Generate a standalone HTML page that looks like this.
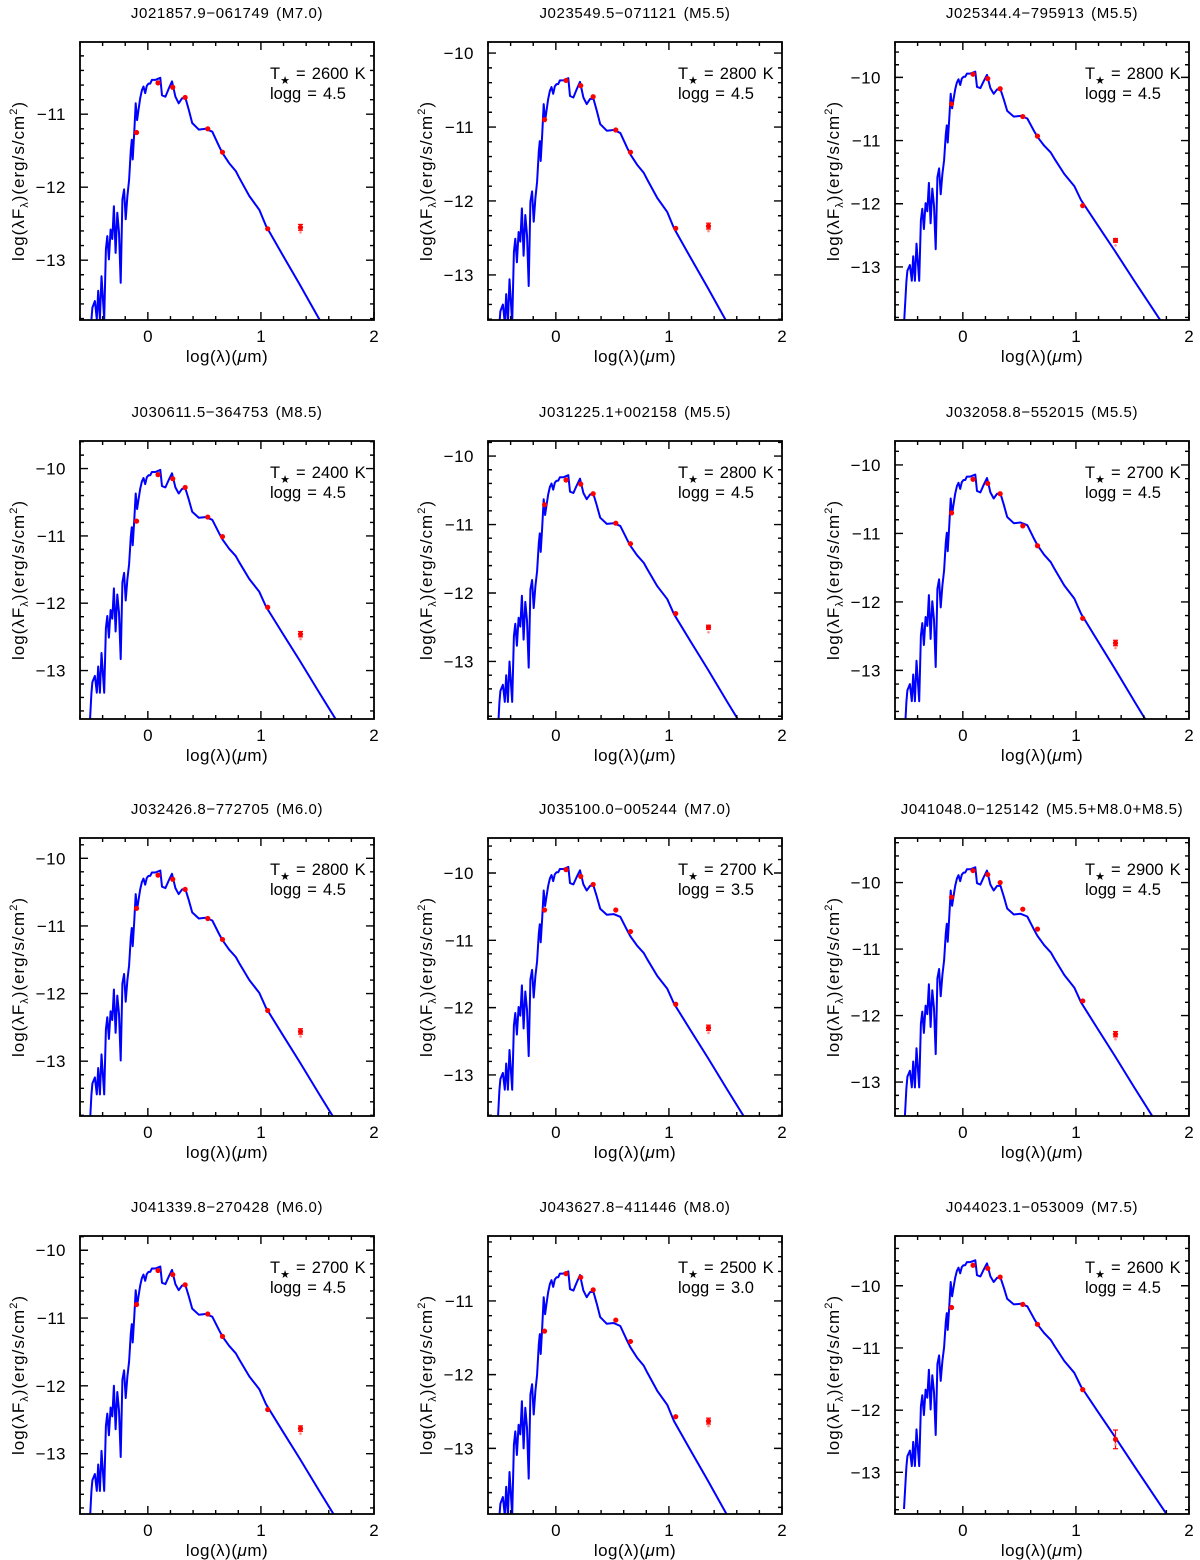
<!DOCTYPE html>
<html><head><meta charset="utf-8"><style>
body{margin:0;background:#fff}
svg{display:block}
text{font-family:"Liberation Sans",sans-serif;fill:#000}
</style></head><body>
<svg id="fig" width="1200" height="1560" viewBox="0 0 1200 1560" xmlns="http://www.w3.org/2000/svg"></svg>
<script>
// Panel metadata
const titles = ["J021857.9\u2212061749 (M7.0)","J023549.5\u2212071121 (M5.5)","J025344.4\u2212795913 (M5.5)",
"J030611.5\u2212364753 (M8.5)","J031225.1+002158 (M5.5)","J032058.8\u2212552015 (M5.5)",
"J032426.8\u2212772705 (M6.0)","J035100.0\u2212005244 (M7.0)","J041048.0\u2212125142 (M5.5+M8.0+M8.5)",
"J041339.8\u2212270428 (M6.0)","J043627.8\u2212411446 (M8.0)","J044023.1\u2212053009 (M7.5)"];
const temps = [2600,2800,2800,2400,2800,2700,2800,2700,2900,2700,2500,2600];
const loggs = ["4.5","4.5","4.5","4.5","4.5","4.5","4.5","3.5","4.5","4.5","3.0","4.5"];
const yMins = [-13.82,-13.61,-13.84,-13.72,-13.84,-13.71,-13.81,-13.61,-13.51,-13.89,-13.89,-13.67];
const yMaxs = [-10.01,-9.85,-9.44,-9.59,-9.78,-9.65,-9.70,-9.48,-9.33,-9.79,-10.12,-9.20];
const modelShift = [0,0.16,0.59,0.48,0.22,0.36,0.32,0.59,0.73,0.26,-0.1,0.91];
// Template model spectrum (log lambda, log lambda F lambda)
const specX = [-0.52,-0.499,-0.490,-0.468,-0.451,-0.439,-0.424,-0.410,-0.386,-0.371,-0.359,-0.344,-0.329,-0.314,-0.300,-0.285,-0.270,-0.255,-0.240,-0.225,-0.210,-0.196,-0.181,-0.166,-0.151,-0.142,-0.134,-0.121,-0.107,-0.095,-0.083,-0.068,-0.053,-0.038,-0.023,-0.009,0.006,0.021,0.036,0.066,0.110,0.125,0.155,0.184,0.214,0.244,0.273,0.303,0.333,0.362,0.392,0.451,0.511,0.570,0.630,0.659,0.719,0.778,0.808,0.897,0.986,1.045,1.193,1.342,1.52,2.0];
const specY = [-14.5,-13.82,-13.65,-13.56,-13.81,-13.42,-13.81,-13.22,-13.81,-12.85,-12.67,-12.99,-12.58,-12.71,-12.26,-12.90,-12.35,-12.62,-13.31,-12.17,-12.03,-12.44,-12.12,-11.90,-11.49,-11.35,-11.62,-11.26,-10.85,-11.08,-10.94,-10.78,-10.67,-10.62,-10.71,-10.61,-10.58,-10.58,-10.53,-10.53,-10.50,-10.74,-10.76,-10.65,-10.55,-10.76,-10.85,-10.78,-10.78,-10.94,-11.12,-11.21,-11.20,-11.24,-11.44,-11.53,-11.67,-11.78,-11.87,-12.12,-12.31,-12.53,-12.93,-13.33,-13.82,-15.12];
// Photometry
const photX = [-0.1,0.09,0.22,0.33,0.53,0.66,1.06,1.35];
const photY = [
[-11.25,-10.57,-10.63,-10.77,-11.20,-11.52,-12.57,-12.55],
[-10.90,-10.37,-10.44,-10.59,-11.04,-11.34,-12.37,-12.34],
[-10.42,-9.95,-10.02,-10.18,-10.62,-10.93,-12.03,-12.58],
[-10.78,-10.09,-10.15,-10.28,-10.72,-11.01,-12.06,-12.46],
[-10.71,-10.35,-10.41,-10.55,-10.98,-11.28,-12.30,-12.50],
[-10.70,-10.21,-10.27,-10.42,-10.89,-11.18,-12.24,-12.60],
[-10.74,-10.25,-10.31,-10.46,-10.89,-11.20,-12.25,-12.56],
[-10.55,-9.95,-10.05,-10.17,-10.55,-10.87,-11.95,-12.30],
[-10.22,-9.82,-9.88,-10.00,-10.40,-10.70,-11.78,-12.28],
[-10.80,-10.30,-10.36,-10.51,-10.94,-11.27,-12.35,-12.63],
[-11.41,-10.63,-10.68,-10.85,-11.26,-11.55,-12.57,-12.63],
[-10.35,-9.67,-9.72,-9.86,-10.30,-10.62,-11.67,-12.47]];
const w3Err = [0.04,0.04,0.03,0.04,0.03,0.04,0.04,0.04,0.04,0.04,0.04,0.15];
const xMin=-0.6, xMax=2.0;
const colLeft=[80,488,895], rowTop=[42,441,838,1236], W=294, H=278;

const NS="http://www.w3.org/2000/svg";
const svg=document.getElementById('fig');
function mk(tag,attrs,parent){const e=document.createElementNS(NS,tag);for(const k in attrs)e.setAttribute(k,attrs[k]);(parent||svg).appendChild(e);return e;}
const defs=mk('defs',{});
for(let p=0;p<12;p++){
  const L=colLeft[p%3], T=rowTop[Math.floor(p/3)];
  const y0=yMins[p], y1=yMaxs[p];
  const sx=v=>L+(v-xMin)/(xMax-xMin)*W;
  const sy=v=>T+(y1-v)/(y1-y0)*H;
  const g=mk('g',{});
  
  
  const cp=mk('clipPath',{id:'c'+p},defs); mk('rect',{x:L,y:T,width:W,height:H},cp);
  const t=mk('text',{x:L+W/2,y:T-24,'text-anchor':'middle','font-size':'15','letter-spacing':'0.6','word-spacing':'2'},g); t.textContent=titles[p];
  
  
  let d='';
  for(let i=0;i<specX.length;i++) d+=(i?'L':'M')+sx(specX[i]).toFixed(1)+','+sy(specY[i]+modelShift[p]).toFixed(1);
  const path=mk('path',{d:d,fill:'none',stroke:'#0000ff','stroke-width':'2','stroke-linejoin':'round','clip-path':'url(#c'+p+')'},g);
  
  
  for(let i=0;i<photX.length;i++){
    const cx=sx(photX[i]), cy=sy(photY[p][i]);
    const pg=mk('g',{},g);
    
    
    if(i===7){
      const e=w3Err[p]; const ya=sy(photY[p][i]+e), yb=sy(photY[p][i]-e);
      mk('line',{x1:cx,x2:cx,y1:ya,y2:yb,stroke:'#ff0000','stroke-width':'1.2'},pg);
      mk('line',{x1:cx-2.5,x2:cx+2.5,y1:ya,y2:ya,stroke:'#ff0000','stroke-width':'1.2'},pg);
      mk('line',{x1:cx-2.5,x2:cx+2.5,y1:yb,y2:yb,stroke:'#ff0000','stroke-width':'1.2'},pg);
      mk('circle',{cx:cx,cy:cy+5,r:1.3,fill:'#ff9090'},pg);
    }
    mk('circle',{cx:cx,cy:cy,r:2.6,fill:'#ff0000'},pg);
  }
  const fr=mk('rect',{x:L,y:T,width:W,height:H,fill:'none',stroke:'#000','stroke-width':'1.8'},g);
  
  
  let td='';
  for(let k=-3;k<=10;k++){const v=k*0.2; if(v<xMin-1e-6||v>xMax+1e-6)continue; const X=sx(v); const len=(k%5===0)?8:4; td+=`M${X},${T+H}v${-len}M${X},${T}v${len}`;}
  for(let k=Math.ceil(y0*5);k<=Math.floor(y1*5);k++){const v=k/5; const Y=sy(v); const len=(k%5===0)?8:4; td+=`M${L},${Y}h${len}M${L+W},${Y}h${-len}`;}
  mk('path',{d:td,stroke:'#000','stroke-width':'1.4',fill:'none'},g);
  for(let v=0;v<=2;v++){const tx=mk('text',{x:sx(v),y:T+H+22,'text-anchor':'middle','font-size':'17'},g);tx.textContent=String(v);
    
    }
  for(let v=Math.ceil(y0);v<=Math.floor(y1);v++){const ty=mk('text',{x:L-14,y:sy(v)+6,'text-anchor':'end','font-size':'17','letter-spacing':'0.5'},g);ty.textContent='\u2212'+Math.abs(v);
    
    }
  const xt=mk('text',{x:L+W/2,y:T+H+42,'text-anchor':'middle','font-size':'17','letter-spacing':'0.5'},g);
  xt.innerHTML='log(\u03bb)(<tspan font-style="italic">\u03bc</tspan>m)';
  
  
  const yt=mk('text',{x:0,y:0,'text-anchor':'middle','font-size':'17','letter-spacing':'1',transform:`translate(${L-56},${T+H/2}) rotate(-90)`},g);
  yt.innerHTML='log(\u03bbF<tspan font-size="11" dy="4">\u03bb</tspan><tspan dy="-4">)(erg/s/cm</tspan><tspan font-size="11" dy="-7">2</tspan><tspan dy="7">)</tspan>';
  
  
  const a1=mk('text',{x:L+W-104,y:T+37,'font-size':'16.5','word-spacing':'1.5'},g);
  a1.innerHTML='T<tspan font-size="11" dy="5">\u2605</tspan><tspan dy="-5"> = '+temps[p]+' K</tspan>';
  
  
  const a2=mk('text',{x:L+W-104,y:T+57,'font-size':'16.5','word-spacing':'1.5'},g);
  a2.textContent='logg = '+loggs[p];
  
  
}
</script>
</body></html>
